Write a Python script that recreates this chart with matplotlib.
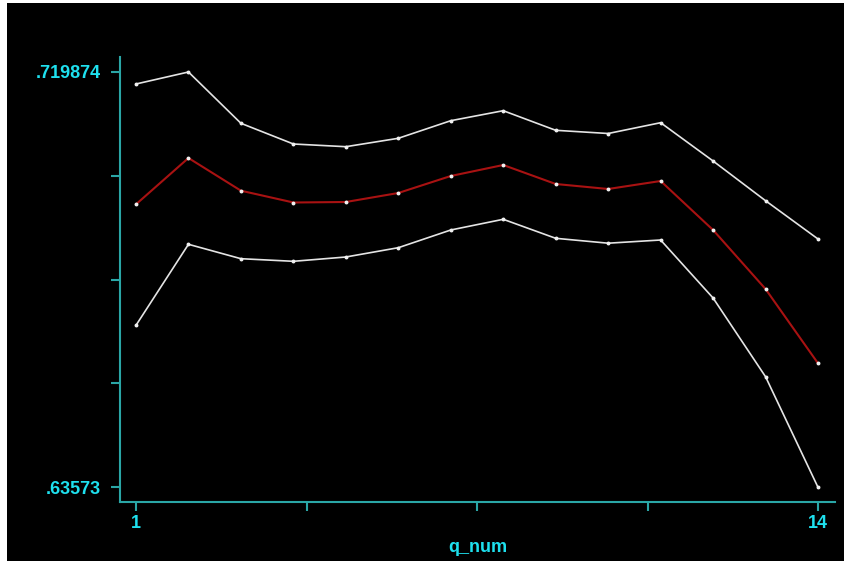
import matplotlib
matplotlib.use('Agg')
import matplotlib.pyplot as plt
from matplotlib.patches import Rectangle

q_num = [1, 2, 3, 4, 5, 6, 7, 8, 9, 10, 11, 12, 13, 14]
upper = [.717444, .719874, .709480, .705286, .704739, .706441, .710007,
         .712033, .708062, .707413, .709602, .701842, .693798, .686038]
mean = [.693069, .702449, .695824, .693433, .693535, .695358, .698803,
        .701031, .697182, .696169, .697790, .687862, .675908, .660854]
lower = [.668553, .684964, .682047, .681520, .682391, .684275, .687862,
         .690030, .686180, .685187, .685835, .674084, .658139, .63573]

y_ticks = [.63573, .6567660, .677802, .698838, .719874]
y_labels = ['.63573', '', '', '', '.719874']
x_ticks = [1, 4.25, 7.5, 10.75, 14]
x_labels = ['1', '', '', '', '14']

axis_col = '#2aa6a6'
text_col = '#1ee0ee'

fig = plt.figure(figsize=(8.45, 5.66), dpi=100, facecolor='white')
# black panel with thin white margin like the screenshot
fig.patches.append(Rectangle((7 / 845, 5 / 566), 1 - 7 / 845, 1 - 8 / 566,
                             transform=fig.transFigure, facecolor='black',
                             edgecolor='none', zorder=-5))

ax = fig.add_axes([120 / 845, 1 - 502 / 566, 715 / 845, 445 / 566])
ax.set_zorder(2)
ax.set_facecolor('black')

for ys, c, w in [(upper, '#e4e4e4', 1.2), (mean, '#a81212', 1.5),
                 (lower, '#e4e4e4', 1.2)]:
    ax.plot(q_num, ys, color=c, lw=w, marker='o', ms=1.8,
            mfc='#f0f0f0', mec='#f0f0f0')

ax.set_xlim(0.695, 14.324)
ax.set_ylim(.632752, .722913)

for s in ['top', 'right']:
    ax.spines[s].set_visible(False)
for s in ['left', 'bottom']:
    ax.spines[s].set_color(axis_col)
    ax.spines[s].set_linewidth(1.5)

ax.set_yticks(y_ticks)
ax.set_yticklabels(y_labels)
ax.set_xticks(x_ticks)
ax.set_xticklabels(x_labels)
ax.tick_params(axis='y', colors=axis_col, labelcolor=text_col, length=6.5,
               width=1.5, pad=7, labelsize=13)
ax.tick_params(axis='x', colors=axis_col, labelcolor=text_col, length=6.5,
               width=1.5, pad=3, labelsize=13)
for lab in ax.get_xticklabels() + ax.get_yticklabels():
    lab.set_fontfamily('Liberation Sans')
    lab.set_fontweight('bold')

ax.set_xlabel('q_num', color=text_col, fontsize=13, family='Liberation Sans',
              fontweight='bold', labelpad=5)

fig.savefig('out.png', dpi=100, facecolor=fig.get_facecolor())
